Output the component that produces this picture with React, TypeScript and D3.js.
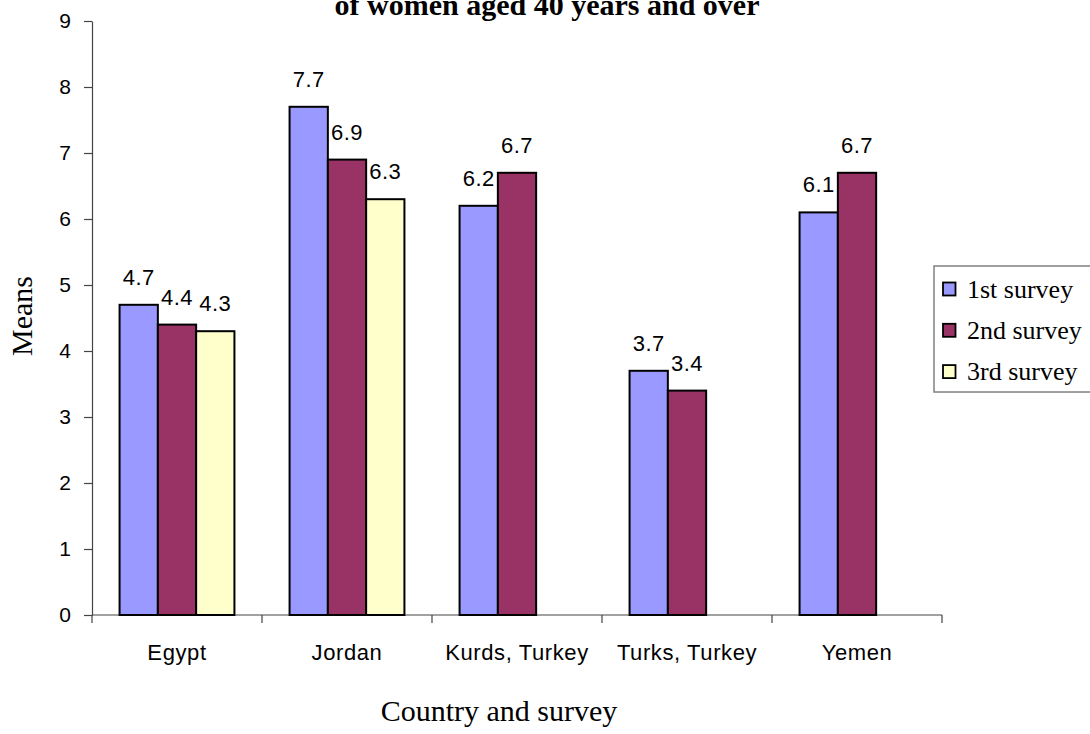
import React, { useEffect, useRef } from "react";
import * as d3 from "d3";

// Mean values per country for each survey round (null = no survey)
const countries = ["Egypt", "Jordan", "Kurds, Turkey", "Turks, Turkey", "Yemen"];
const seriesNames = ["1st survey", "2nd survey", "3rd survey"];
const survey1 = [4.7, 7.7, 6.2, 3.7, 6.1];
const survey2 = [4.4, 6.9, 6.7, 3.4, 6.7];
const survey3: (number | null)[] = [4.3, 6.3, null, null, null];
const seriesColors = ["#9999FF", "#993366", "#FFFFCC"];
const yTicks = [0, 1, 2, 3, 4, 5, 6, 7, 8, 9];

const W = 1090;
const H = 734;
const SANS = "'Liberation Sans', Arial, sans-serif";
const SERIF = "'Liberation Serif', 'Times New Roman', serif";

export default function App() {
  const ref = useRef<SVGSVGElement | null>(null);

  useEffect(() => {
    const svg = d3.select(ref.current);
    svg.selectAll("*").remove();

    const plot = { left: 92, right: 942, top: 21, bottom: 615 };
    const seriesValues = [survey1, survey2, survey3];

    const x0 = d3.scaleBand<string>().domain(countries).range([plot.left, plot.right]).paddingInner(0).paddingOuter(0);
    const x1 = d3
      .scaleBand<string>()
      .domain(seriesNames)
      .range([0, x0.bandwidth()])
      .paddingInner(0)
      .paddingOuter(0.72);
    const y = d3.scaleLinear().domain([0, 9]).range([plot.bottom, plot.top]);

    svg.append("rect").attr("width", W).attr("height", H).attr("fill", "#ffffff");

    // Title (second line of a two-line heading; first line sits above the frame)
    svg
      .append("text")
      .attr("x", 547)
      .attr("y", 15)
      .attr("text-anchor", "middle")
      .attr("font-family", SERIF)
      .attr("font-weight", "bold")
      .attr("font-size", 30)
      .attr("fill", "#000")
      .text("of women aged 40 years and over");

    // Y axis
    const yAxis = d3
      .axisLeft(y)
      .tickValues(yTicks)
      .tickFormat((d) => String(d))
      .tickSize(8)
      .tickPadding(13)
      .tickSizeOuter(0);
    const gy = svg.append("g").attr("transform", `translate(${plot.left},0)`).call(yAxis);
    gy.select(".domain").attr("stroke", "#444").attr("stroke-width", 1.2);
    gy.selectAll(".tick line").attr("stroke", "#444").attr("stroke-width", 1.2);
    gy.selectAll(".tick text")
      .attr("font-family", SANS)
      .attr("font-size", 21)
      .attr("fill", "#000");

    // X axis with ticks on the category boundaries
    const gx = svg.append("g");
    gx.append("line")
      .attr("x1", plot.left)
      .attr("x2", plot.right)
      .attr("y1", plot.bottom)
      .attr("y2", plot.bottom)
      .attr("stroke", "#444")
      .attr("stroke-width", 1.2);
    const boundaries = countries.map((c) => x0(c) as number).concat([plot.right]);
    gx.selectAll("line.tick")
      .data(boundaries)
      .join("line")
      .attr("class", "tick")
      .attr("x1", (d) => d)
      .attr("x2", (d) => d)
      .attr("y1", plot.bottom)
      .attr("y2", plot.bottom + 8)
      .attr("stroke", "#444")
      .attr("stroke-width", 1.2);
    gx.selectAll("text")
      .data(countries)
      .join("text")
      .attr("x", (d) => (x0(d) as number) + x0.bandwidth() / 2)
      .attr("y", 660)
      .attr("text-anchor", "middle")
      .attr("font-family", SANS)
      .attr("font-size", 22)
      .attr("letter-spacing", 0.6)
      .attr("fill", "#000")
      .text((d) => d);

    // Bars and value labels
    type Cell = { country: string; series: string; value: number; si: number };
    const cells: Cell[] = [];
    countries.forEach((c, ci) => {
      seriesNames.forEach((s, si) => {
        const v = seriesValues[si][ci];
        if (v !== null && v !== undefined) cells.push({ country: c, series: s, value: v, si });
      });
    });

    const bars = svg.append("g");
    bars
      .selectAll("rect")
      .data(cells)
      .join("rect")
      .attr("x", (d) => (x0(d.country) as number) + (x1(d.series) as number))
      .attr("y", (d) => y(d.value))
      .attr("width", x1.bandwidth())
      .attr("height", (d) => y(0) - y(d.value))
      .attr("fill", (d) => seriesColors[d.si])
      .attr("stroke", "#000")
      .attr("stroke-width", 2);

    svg
      .append("g")
      .selectAll("text")
      .data(cells)
      .join("text")
      .attr("x", (d) => (x0(d.country) as number) + (x1(d.series) as number) + x1.bandwidth() / 2)
      .attr("y", (d) => y(d.value) - 20)
      .attr("text-anchor", "middle")
      .attr("font-family", SANS)
      .attr("font-size", 22)
      .attr("letter-spacing", 0.5)
      .attr("fill", "#000")
      .text((d) => d.value.toFixed(1));

    // Axis titles
    svg
      .append("text")
      .attr("transform", "translate(32,316) rotate(-90)")
      .attr("text-anchor", "middle")
      .attr("font-family", SERIF)
      .attr("font-size", 30)
      .attr("fill", "#000")
      .text("Means");

    svg
      .append("text")
      .attr("x", 499)
      .attr("y", 721)
      .attr("text-anchor", "middle")
      .attr("font-family", SERIF)
      .attr("font-size", 30)
      .attr("fill", "#000")
      .text("Country and survey");

    // Legend
    const lg = svg.append("g");
    lg.append("rect")
      .attr("x", 934)
      .attr("y", 266)
      .attr("width", 170)
      .attr("height", 126)
      .attr("fill", "#fff")
      .attr("stroke", "#808080")
      .attr("stroke-width", 1.5);
    const rows = lg
      .selectAll("g.row")
      .data(seriesNames)
      .join("g")
      .attr("class", "row")
      .attr("transform", (_d, i) => `translate(0,${289 + i * 41.3})`);
    rows
      .append("rect")
      .attr("x", 943)
      .attr("y", -6.5)
      .attr("width", 12.5)
      .attr("height", 13)
      .attr("fill", (_d, i) => seriesColors[i])
      .attr("stroke", "#000")
      .attr("stroke-width", 1.8);
    rows
      .append("text")
      .attr("x", 967)
      .attr("y", 8.5)
      .attr("font-family", SERIF)
      .attr("font-size", 26)
      .attr("fill", "#000")
      .text((d) => d);
  }, []);

  return (
    <svg
      ref={ref}
      width={W}
      height={H}
      style={{ position: "absolute", left: 0, top: 0, display: "block" }}
    />
  );
}
